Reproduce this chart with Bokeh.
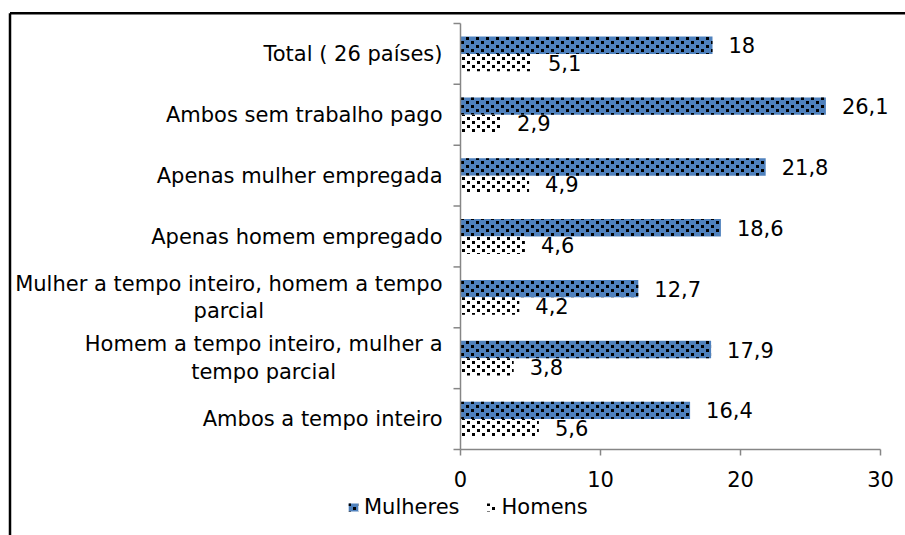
import base64
import struct
import zlib

import numpy as np
from bokeh.core.properties import value
from bokeh.embed import file_html
from bokeh.models import (ColumnDataSource, ImageURLTexture, Legend,
                          LegendItem, Range1d)
from bokeh.plotting import figure
from bokeh.resources import INLINE

# ---------------- data ----------------
categories = [
    "Total ( 26 países)",
    "Ambos sem trabalho pago",
    "Apenas mulher empregada",
    "Apenas homem empregado",
    "Mulher a tempo inteiro, homem a tempo\nparcial",
    "Homem a tempo inteiro, mulher a\ntempo parcial",
    "Ambos a tempo inteiro",
]
mulheres = [18, 26.1, 21.8, 18.6, 12.7, 17.9, 16.4]
homens = [5.1, 2.9, 4.9, 4.6, 4.2, 3.8, 5.6]
series_names = ["Mulheres", "Homens"]
x_ticks = [0, 10, 20, 30]
x_tick_labels = ["0", "10", "20", "30"]

# ---------------- style / layout ----------------
FONT = "DejaVu Sans"
FS = "21px"
AXIS_COLOR = "#868686"
BLUE = "#4F81BD"
BAR_H = 0.286
OFFSET = 0.143

W, H = 905, 535          # canvas size
X_ORIGIN = 460           # canvas px of x = 0
PX_X = 14.0              # px per x unit
Y_ORIGIN = 449           # canvas px (from top) of y = 0
n = len(categories)
PX_Y = 426.0 / n         # px per category


def dx(px):
    return px / PX_X


def dy(px):
    return px / PX_Y


def fmt(v):
    return ("%g" % v).replace(".", ",")


def png_tile(w, h, squares, size):
    pix = [[(0, 0, 0, 0)] * w for _ in range(h)]
    for sx, sy in squares:
        for yy in range(size):
            for xx in range(size):
                pix[(sy + yy) % h][(sx + xx) % w] = (0, 0, 0, 255)
    raw = b"".join(b"\x00" + b"".join(bytes(px) for px in row) for row in pix)

    def chunk(t, d):
        return (struct.pack(">I", len(d)) + t + d +
                struct.pack(">I", zlib.crc32(t + d) & 0xFFFFFFFF))

    png = (b"\x89PNG\r\n\x1a\n" +
           chunk(b"IHDR", struct.pack(">IIBBBBB", w, h, 8, 6, 0, 0, 0)) +
           chunk(b"IDAT", zlib.compress(raw)) + chunk(b"IEND", b""))
    return "data:image/png;base64," + base64.b64encode(png).decode()


tex_m = ImageURLTexture(url=png_tile(10, 8, [(1, 1), (6, 5)], 3))
tex_h = ImageURLTexture(url=png_tile(10, 8, [(2, 1), (7, 5)], 3))

centers = n - 0.5 - np.arange(n)

src_m = ColumnDataSource(dict(y=centers + OFFSET, v=mulheres,
                              lbl=[fmt(v) for v in mulheres],
                              pat=["conf_m"] * n))
src_h = ColumnDataSource(dict(y=centers - OFFSET, v=homens,
                              lbl=[fmt(v) for v in homens],
                              pat=["conf_h"] * n))

p = figure(width=W, height=H, output_backend="svg", toolbar_location=None,
           x_range=Range1d(-dx(X_ORIGIN), dx(W - X_ORIGIN)),
           y_range=Range1d(-dy(H - Y_ORIGIN), dy(Y_ORIGIN)),
           x_axis_type=None, y_axis_type=None,
           min_border=0, min_border_left=0, min_border_right=0,
           min_border_top=0, min_border_bottom=0)
p.outline_line_color = None
p.grid.grid_line_color = None
p.background_fill_color = "white"
p.border_fill_color = "white"

# chart border (top and left edges of the chart area)
bx = dx(9.5 - X_ORIGIN)
by = dy(Y_ORIGIN - 12.75)
p.segment(x0=[bx, bx], y0=[by, by], x1=[bx, dx(W - X_ORIGIN)],
          y1=[-dy(H - Y_ORIGIN), by], line_color="black", line_width=2.5)

r_m = p.hbar(y="y", right="v", left=0, height=BAR_H, source=src_m,
             fill_color=BLUE, line_color=None,
             hatch_pattern="pat", hatch_extra={"conf_m": tex_m})
r_h = p.hbar(y="y", right="v", left=0, height=BAR_H, source=src_h,
             fill_color="white", line_color=None,
             hatch_pattern="pat", hatch_extra={"conf_h": tex_h})

# value labels
for s in (src_m, src_h):
    p.text(x="v", y="y", text="lbl", source=s, x_offset=16,
           text_align="left", text_baseline="middle",
           text_font=value(FONT), text_font_size=FS, text_color="black")

# axes drawn from the scales
bounds = np.arange(n + 1)
p.segment(x0=0, y0=0, x1=0, y1=n, line_color=AXIS_COLOR, line_width=1.5)
p.segment(x0=[-dx(7)] * len(bounds), y0=bounds, x1=[0] * len(bounds),
          y1=bounds, line_color=AXIS_COLOR, line_width=1.5)
p.segment(x0=0, y0=0, x1=x_ticks[-1], y1=0, line_color=AXIS_COLOR,
          line_width=1.5)
p.segment(x0=x_ticks, y0=[0] * len(x_ticks), x1=x_ticks,
          y1=[-dy(6)] * len(x_ticks), line_color=AXIS_COLOR, line_width=1.5)

# x tick labels
p.text(x=x_ticks, y=[-dy(29)] * len(x_ticks), text=x_tick_labels,
       text_align="center", text_baseline="middle",
       text_font=value(FONT), text_font_size=FS, text_color="black")

# category labels: block right-aligned, lines centred
p.text(x=[-dx(18)] * n, y=centers, text=categories,
       anchor="center_right", text_align="center", text_baseline="middle",
       text_line_height=1.15,
       text_font=value(FONT), text_font_size=FS, text_color="black")

legend = Legend(items=[LegendItem(label=series_names[0], renderers=[r_m]),
                       LegendItem(label=series_names[1], renderers=[r_h])],
                orientation="horizontal", location=(347, 16),
                glyph_width=12, glyph_height=10, label_standoff=5,
                spacing=25, padding=0, margin=0,
                border_line_color=None, background_fill_alpha=0,
                label_text_font=FONT, label_text_font_size=FS,
                label_text_color="black")
p.add_layout(legend, "center")

open("out.html", "w").write(file_html(p, INLINE))
